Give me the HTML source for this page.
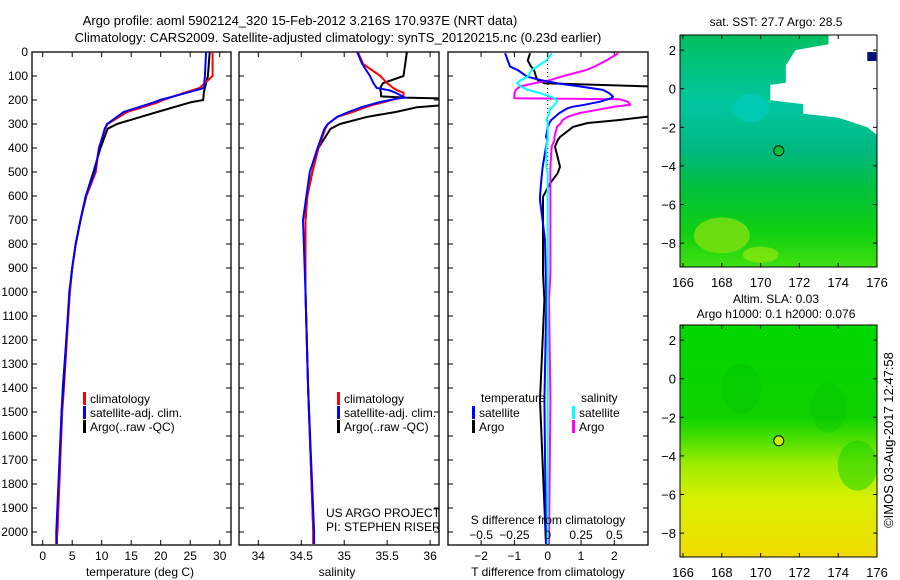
<!DOCTYPE html>
<html><head><meta charset="utf-8"><style>
body{margin:0;background:#fff}
svg{display:block;font-family:"Liberation Sans",sans-serif}
text{font-size:12px;fill:#000}
</style></head><body>
<svg id="c" width="900" height="580" viewBox="0 0 900 580">
<defs>
<linearGradient id="sstg" x1="0" y1="0" x2="0" y2="1">
<stop offset="0" stop-color="#00c060"/><stop offset="0.3" stop-color="#00c6a0"/><stop offset="0.5" stop-color="#00b880"/>
<stop offset="0.65" stop-color="#00c040"/><stop offset="0.85" stop-color="#10d010"/><stop offset="1" stop-color="#40e010"/></linearGradient>
<linearGradient id="slag" x1="0" y1="0" x2="0" y2="1">
<stop offset="0" stop-color="#00d800"/><stop offset="0.4" stop-color="#10d200"/><stop offset="0.5" stop-color="#50e000"/>
<stop offset="0.6" stop-color="#a0ec00"/><stop offset="0.75" stop-color="#d8f000"/><stop offset="1" stop-color="#f0dc00"/></linearGradient>
</defs>
<g id="titles">
<text x="300" y="25" text-anchor="middle" style="font-size:13px">Argo profile: aoml 5902124_320 15-Feb-2012 3.216S 170.937E (NRT data)</text>
<text x="338" y="42" text-anchor="middle" style="font-size:13px">Climatology: CARS2009. Satellite-adjusted climatology: synTS_20120215.nc (0.23d earlier)</text>
</g>
<g id="plots"></g>
<g id="maps"></g>
</svg>
<script>
// ---- data ----
const tempDepth = [0,100,150,170,200,210,250,300,320,400,500,600,700,800,900,1000,1400,1500,2000,2050];
const tempClim  = [28.8,28.8,26.6,24,20.4,19.5,14.3,11,10.6,9.5,9,7.4,6.4,5.6,5,4.6,3.6,3.3,2.5,2.3];
const tempSat   = [27.7,27.5,27.3,24.4,19.9,18.8,13.7,10.9,10.5,9.6,8.8,7.3,6.4,5.6,5,4.5,3.5,3.2,2.3,2.3];
const tempArgo  = [28.3,28,27.5,27.3,27.2,25,19.4,12.6,11,9.8,8.6,7.3,6.4,5.6,5,4.6,3.4,3.2,2.4,2.4];
const salDepth  = [0,50,100,130,150,160,170,185,190,195,210,220,230,250,270,300,320,400,500,600,700,1000,1400,2000,2050];
const salClim   = [35.16,35.22,35.42,35.5,35.57,35.62,35.69,35.69,35.69,35.6,35.45,35.34,35.25,35.1,34.92,34.81,34.78,34.7,34.63,34.57,34.55,34.55,34.58,34.64,34.64];
const salSat    = [35.15,35.21,35.3,35.34,35.38,35.53,35.6,35.68,35.71,35.6,35.4,35.3,35.2,35.05,34.92,34.81,34.77,34.69,34.6,34.56,34.52,34.55,34.58,34.65,34.65];
const salArgo   = [35.73,35.71,35.69,35.45,35.42,35.42,35.43,35.43,35.71,36.3,36.3,36.2,35.85,35.6,35.27,34.95,34.84,34.7,34.63,34.57,34.55,34.55,34.58,34.64,34.64];
const dDepth    = [5,35,61,75,103,117,130,144,158,172,186,193,197,207,220,228,234,254,270,284,296,312,354,367,395,478,505,548,603,617,673,783,923,1033,1450,2050];
const dTsat     = [-1.28,-1.2,-1.13,-0.9,-0.62,-0.2,0.28,1.0,1.66,1.85,1.96,1.9,1.8,1.57,1.1,0.76,0.6,0.35,0.22,0.1,0.05,0,-0.05,0,-0.05,-0.15,-0.17,-0.2,-0.23,-0.23,-0.18,-0.08,-0.06,-0.04,-0.1,-0.05];
const dTargo    = [-0.53,-0.6,-0.5,-0.41,-0.35,-0.3,-0.1,3.2,3.2,3.2,3.2,3.2,3.2,3.2,3.2,3.2,3.2,3.2,2.98,2.08,1.2,0.76,0.37,0.3,0.22,0.37,0.3,0.07,-0.14,-0.14,-0.14,-0.14,-0.14,-0.1,-0.23,-0.05];
const dSsat     = [0.03,-0.01,-0.08,-0.12,-0.15,-0.2,-0.23,-0.2,-0.15,-0.05,0.02,0.05,0.06,0.07,0.05,0.04,0.02,0.01,0,-0.01,0,0,0,0,-0.01,-0.01,0,0,0,0,0,0,0,0,0,0];
const dSargo    = [0.53,0.44,0.35,0.29,0.1,0.02,-0.1,-0.21,-0.24,-0.25,-0.25,-0.25,0.54,0.6,0.62,0.5,0.44,0.24,0.15,0.11,0.1,0.07,0.05,0.05,0.03,0.02,0.02,0.02,0.02,0.02,0.02,0.02,0.02,0.01,0.02,0.01];
const depthTicks = [0,100,200,300,400,500,600,700,800,900,1000,1100,1200,1300,1400,1500,1600,1700,1800,1900,2000];
const tempTicks = [0,5,10,15,20,25,30];
const salTicks = ["34","34.5","35","35.5","36"];
const dtTicks = [-2,-1,0,1,2];
const dsTicks = ["-0.5","-0.25","0","0.25","0.5"];
const lonTicks = [166,168,170,172,174,176];
const latTicks = [2,0,-2,-4,-6,-8];
const floatLon = 170.937, floatLat = -3.216;

// ---- axes ----
const NS='http://www.w3.org/2000/svg';
const yD = d => 52 + d*0.24;
const xT = t => 42.7 + t*5.9;
const xS = s => 258.3 + (s-34)*85.9;
const xDT = t => 547.7 + t*33.3;
const xDS = s => 547.7 + s*133.3;
const yTop=52, yBot=545;
function mk(tag, attrs, parent){const e=document.createElementNS(NS,tag);for(const k in attrs)e.setAttribute(k,attrs[k]);parent.appendChild(e);return e;}
const plots=document.getElementById('plots');

function panel(name,x0,x1){
  const g=mk('g',{},plots);
  
  
  const clip=mk('clipPath',{id:'cp'+name},g);
  mk('rect',{x:x0,y:yTop,width:x1-x0,height:yBot-yTop},clip);
  mk('rect',{x:x0,y:yTop,width:x1-x0,height:yBot-yTop,fill:'none',stroke:'#000','stroke-width':1.3},g);
  return g;
}
function line(g,clip,xs,ys,color,name,w){
  const pts=xs.map((v,i)=>v.toFixed(1)+','+ys[i].toFixed(1)).join(' ');
  const p=mk('polyline',{points:pts,fill:'none',stroke:color,'stroke-width':w||2,'clip-path':'url(#cp'+clip+')','stroke-linejoin':'round'},g);
  
  
}
function txt(g,x,y,s,anchor,size){const t=mk('text',{x:x,y:y,'text-anchor':anchor||'start'},g);if(size)t.style.fontSize=size+'px';t.textContent=s;return t;}

// Panel 1
const p1=panel('temperature-panel',32,231);
depthTicks.forEach(d=>{mk('line',{x1:32,x2:37,y1:yD(d),y2:yD(d),stroke:'#000'},p1);mk('line',{x1:226,x2:231,y1:yD(d),y2:yD(d),stroke:'#000'},p1);txt(p1,28,yD(d)+4,String(d),'end');});
tempTicks.forEach(t=>{mk('line',{x1:xT(t),x2:xT(t),y1:yBot,y2:yBot-5,stroke:'#000'},p1);mk('line',{x1:xT(t),x2:xT(t),y1:yTop,y2:yTop+5,stroke:'#000'},p1);txt(p1,xT(t),560,String(t),'middle');});
txt(p1,140,576,'temperature (deg C)','middle');
line(p1,'temperature-panel',tempDepth.map((_,i)=>xT(tempArgo[i])),tempDepth.map(yD),'#000','argo-temp-line');
line(p1,'temperature-panel',tempDepth.map((_,i)=>xT(tempClim[i])),tempDepth.map(yD),'#f00','clim-temp-line');
line(p1,'temperature-panel',tempDepth.map((_,i)=>xT(tempSat[i])),tempDepth.map(yD),'#00f','sat-temp-line');

function legend(g,x,y,items,name){
  const lg=mk('g',{},g);
  
  
  items.forEach((it,i)=>{mk('rect',{x:x,y:y+i*14-6,width:3,height:13,fill:it[1]},lg);txt(lg,x+7,y+i*14+5,it[0]);});
}
legend(p1,83,398,[['climatology','#f00'],['satellite-adj. clim.','#00f'],['Argo(..raw -QC)','#000']],'temperature-legend');

// Panel 2
const p2=panel('salinity-panel',239,439);
depthTicks.forEach(d=>{mk('line',{x1:239,x2:244,y1:yD(d),y2:yD(d),stroke:'#000'},p2);mk('line',{x1:434,x2:439,y1:yD(d),y2:yD(d),stroke:'#000'},p2);});
salTicks.forEach(s=>{const x=xS(parseFloat(s));mk('line',{x1:x,x2:x,y1:yBot,y2:yBot-5,stroke:'#000'},p2);mk('line',{x1:x,x2:x,y1:yTop,y2:yTop+5,stroke:'#000'},p2);txt(p2,x,560,s,'middle');});
txt(p2,337,576,'salinity','middle');
line(p2,'salinity-panel',salDepth.map((_,i)=>xS(salArgo[i])),salDepth.map(yD),'#000','argo-sal-line');
line(p2,'salinity-panel',salDepth.map((_,i)=>xS(salClim[i])),salDepth.map(yD),'#f00','clim-sal-line');
line(p2,'salinity-panel',salDepth.map((_,i)=>xS(salSat[i])),salDepth.map(yD),'#00f','sat-sal-line');
legend(p2,337,398,[['climatology','#f00'],['satellite-adj. clim.','#00f'],['Argo(..raw -QC)','#000']],'salinity-legend');
const cr=mk('g',{},p2);


txt(cr,326,517,'US ARGO PROJECT');txt(cr,326,531,'PI: STEPHEN RISER');

// Panel 3
const p3=panel('difference-panel',448,648);
depthTicks.forEach(d=>{mk('line',{x1:448,x2:453,y1:yD(d),y2:yD(d),stroke:'#000'},p3);mk('line',{x1:643,x2:648,y1:yD(d),y2:yD(d),stroke:'#000'},p3);});
dtTicks.forEach(t=>{mk('line',{x1:xDT(t),x2:xDT(t),y1:yBot,y2:yBot-5,stroke:'#000'},p3);mk('line',{x1:xDT(t),x2:xDT(t),y1:yTop,y2:yTop+5,stroke:'#000'},p3);txt(p3,xDT(t),560,String(t).replace('-','\u2212'),'middle');});
mk('line',{x1:xDT(0),x2:xDT(0),y1:yTop,y2:yBot,stroke:'#000','stroke-dasharray':'1,3'},p3);
txt(p3,548,576,'T difference from climatology','middle');
line(p3,'difference-panel',dDepth.map((_,i)=>xDT(dTargo[i])),dDepth.map(yD),'#000','argo-t-diff-line');
line(p3,'difference-panel',dDepth.map((_,i)=>xDS(dSargo[i])),dDepth.map(yD),'#f0f','argo-s-diff-line');
line(p3,'difference-panel',dDepth.map((_,i)=>xDT(dTsat[i])),dDepth.map(yD),'#00f','sat-t-diff-line');
line(p3,'difference-panel',dDepth.map((_,i)=>xDS(dSsat[i])),dDepth.map(yD),'#0ff','sat-s-diff-line');
txt(p3,548,524,'S difference from climatology','middle');
dsTicks.forEach(s=>txt(p3,xDS(parseFloat(s)),539,s.replace('-','\u2212'),'middle'));
txt(p3,481,402,'temperature');txt(p3,581,402,'salinity');
legend(p3,472,412,[['satellite','#00f'],['Argo','#000']],'t-diff-legend');
legend(p3,572,412,[['satellite','#0ff'],['Argo','#f0f']],'s-diff-legend');

// ---- maps ----
const maps=document.getElementById('maps');
const mx = lon => 683 + (lon-166)*19.4;
function drawMap(name,y0,fill,title,extra,markerFill){
  const g=mk('g',{},maps);
  
  
  const my = lat => y0 + 53.7 + (-lat)*19.3;
  mk('rect',{x:680,y:y0,width:197,height:232,fill:'url(#'+fill+')'},g);
  extra(g,my);
  mk('rect',{x:680,y:y0,width:197,height:232,fill:'none',stroke:'#000'},g);
  lonTicks.forEach(l=>{mk('line',{x1:mx(l),x2:mx(l),y1:y0,y2:y0+4,stroke:'#000'},g);mk('line',{x1:mx(l),x2:mx(l),y1:y0+232,y2:y0+228,stroke:'#000'},g);txt(g,mx(l),y0+252,String(l),'middle',13);});
  latTicks.forEach(l=>{mk('line',{x1:680,x2:684,y1:my(l),y2:my(l),stroke:'#000'},g);mk('line',{x1:873,x2:877,y1:my(l),y2:my(l),stroke:'#000'},g);txt(g,676,my(l)+5,String(l).replace('-','\u2212'),'end',13);});
  const c=mk('circle',{cx:mx(floatLon),cy:my(floatLat),r:5,fill:markerFill,stroke:'#000'},g);
  
  
  title.forEach(t=>txt(g,t[1],t[2],t[0],'middle',12));
}
drawMap('sst-map',35,'sstg',[['sat. SST: 27.7 Argo: 28.5',776,26]],(g,my)=>{
  mk('path',{d:`M${mx(173.5)},35 L877,35 L877,${my(-2.4)} L${mx(175.5)},${my(-2)} L${mx(174)},${my(-1.5)} L${mx(172.2)},${my(-1.3)} L${mx(172.2)},${my(-0.8)} L${mx(170.5)},${my(-0.6)} L${mx(170.5)},${my(0.2)} L${mx(171.3)},${my(0.3)} L${mx(171.3)},${my(1.2)} L${mx(171.8)},${my(2)} L${mx(173.5)},${my(2.3)} Z`,fill:'#fff'},g);
  mk('rect',{x:mx(175.5),y:my(1.9),width:9,height:9,fill:'#001080'},g);
  mk('ellipse',{cx:mx(168),cy:my(-7.6),rx:28,ry:18,fill:'#80e010',opacity:0.8},g);
  mk('ellipse',{cx:mx(170),cy:my(-8.6),rx:18,ry:8,fill:'#90e810',opacity:0.7},g);
  mk('ellipse',{cx:mx(169.5),cy:my(-1),rx:18,ry:14,fill:'#00cdc0',opacity:0.6},g);
},'#00c040');
drawMap('sla-map',325,'slag',[['Altim. SLA: 0.03',776,303],['Argo h1000: 0.1 h2000: 0.076',776,318]],(g,my)=>{
  mk('ellipse',{cx:mx(169),cy:my(-0.5),rx:20,ry:25,fill:'#00c000',opacity:0.3},g);
  mk('ellipse',{cx:mx(173.5),cy:my(-1.5),rx:18,ry:25,fill:'#00c000',opacity:0.3},g);
  mk('ellipse',{cx:mx(175),cy:my(-4.5),rx:20,ry:25,fill:'#10d000',opacity:0.5},g);
},'#c8f000');
const copyText=mk('text',{x:893,y:440,'text-anchor':'middle',transform:'rotate(-90 893 440)'},maps);
copyText.style.fontSize='13px';
copyText.textContent='\u00a9IMOS 03-Aug-2017 12:47:58';


</script>
</body></html>
